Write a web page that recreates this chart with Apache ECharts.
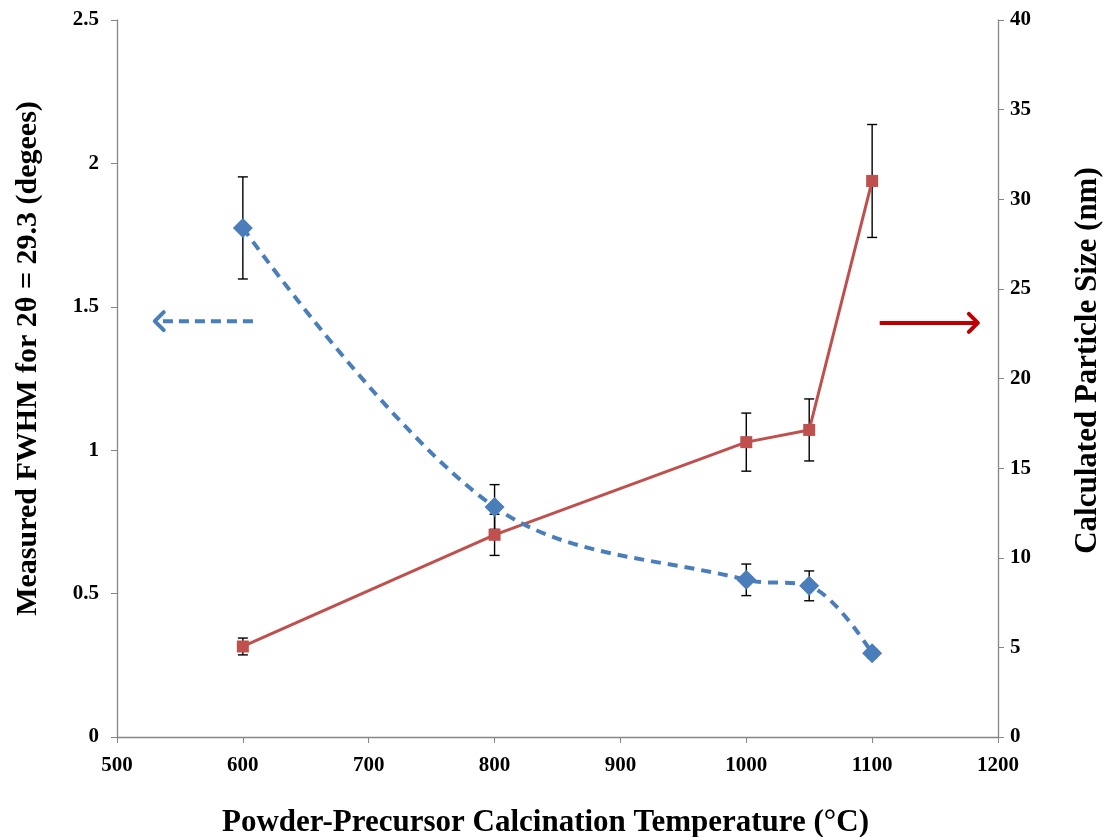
<!DOCTYPE html>
<html>
<head>
<meta charset="utf-8">
<script src="https://cdn.jsdelivr.net/npm/echarts@6/dist/echarts.min.js"></script>
<style>
  html, body { margin: 0; padding: 0; background: #fff; }
  #chart { width: 1105px; height: 837px; }
</style>
</head>
<body>
<div id="chart"></div>
<script>
// Calcination temperatures (°C)
const temperatures = [600, 800, 1000, 1050, 1100];
// FWHM of the 2θ = 29.3 peak (degrees) and its uncertainty
const fwhm = [1.775, 0.802, 0.548, 0.527, 0.292];
const fwhmErr = [0.178, 0.078, 0.055, 0.052, 0.016];
// Particle size from Scherrer analysis (nm) and its uncertainty
const particleSize = [5.05, 11.28, 16.45, 17.13, 31.02];
const particleErr = [0.47, 1.15, 1.62, 1.73, 3.15];

const FONT = '"Liberation Serif", "Times New Roman", serif';
const AXIS_GRAY = '#868686';
const BLUE = '#4a7ebb';
const RED = '#c0504d';

const chart = echarts.init(document.getElementById('chart'));

function errorBarSeries(values, errors, yAxisIndex) {
  return {
    type: 'custom',
    yAxisIndex: yAxisIndex,
    z: 1,
    silent: true,
    data: temperatures.map((t, i) => [t, values[i] - errors[i], values[i] + errors[i]]),
    renderItem: function (params, api) {
      const lo = api.coord([api.value(0), api.value(1)]);
      const hi = api.coord([api.value(0), api.value(2)]);
      const cap = 5;
      const style = { stroke: '#000', lineWidth: 1.4 };
      return {
        type: 'group',
        children: [
          { type: 'line', shape: { x1: lo[0], y1: lo[1], x2: hi[0], y2: hi[1] }, style: style },
          { type: 'line', shape: { x1: lo[0] - cap, y1: lo[1], x2: lo[0] + cap, y2: lo[1] }, style: style },
          { type: 'line', shape: { x1: hi[0] - cap, y1: hi[1], x2: hi[0] + cap, y2: hi[1] }, style: style }
        ]
      };
    }
  };
}

const tickLabel = {
  fontFamily: FONT, fontWeight: 'bold', fontSize: 21, color: '#000',
  formatter: v => String(v)
};

chart.setOption({
  animation: false,
  backgroundColor: '#fff',
  grid: { left: 117, right: 107, top: 20, bottom: 100, containLabel: false, outerBoundsMode: 'none' },
  xAxis: {
    type: 'value',
    min: 500, max: 1200, interval: 100,
    name: 'Powder-Precursor Calcination Temperature (°C)',
    nameLocation: 'middle',
    nameGap: 70,
    nameTextStyle: { fontFamily: FONT, fontWeight: 'bold', fontSize: 31, color: '#000', padding: [0, 24, 0, 0] },
    axisLine: { lineStyle: { color: AXIS_GRAY, width: 1.3 } },
    axisTick: { inside: false, length: 6, lineStyle: { color: AXIS_GRAY } },
    axisLabel: Object.assign({ margin: 18 }, tickLabel),
    splitLine: { show: false }
  },
  yAxis: [
    {
      type: 'value',
      min: 0, max: 2.5, interval: 0.5,
      name: 'Measured FWHM for 2θ = 29.3 (degees)',
      nameLocation: 'middle',
      nameRotate: 90,
      nameGap: 74,
      nameTextStyle: { fontFamily: FONT, fontWeight: 'bold', fontSize: 30, color: '#000', padding: [0, 0, 0, 40] },
      axisLine: { show: true, lineStyle: { color: AXIS_GRAY, width: 1.3 } },
      axisTick: { show: true, length: 6, lineStyle: { color: AXIS_GRAY } },
      axisLabel: Object.assign({ margin: 18 }, tickLabel),
      splitLine: { show: false }
    },
    {
      type: 'value',
      min: 0, max: 40, interval: 5,
      position: 'right',
      name: 'Calculated Particle Size (nm)',
      nameLocation: 'middle',
      nameRotate: 90,
      nameGap: 74,
      nameTextStyle: { fontFamily: FONT, fontWeight: 'bold', fontSize: 31, color: '#000', padding: [0, 0, 0, 36] },
      axisLine: { show: true, lineStyle: { color: AXIS_GRAY, width: 1.3 } },
      axisTick: { show: true, length: 6, lineStyle: { color: AXIS_GRAY } },
      axisLabel: Object.assign({ margin: 12 }, tickLabel),
      splitLine: { show: false }
    }
  ],
  series: [
    errorBarSeries(fwhm, fwhmErr, 0),
    errorBarSeries(particleSize, particleErr, 1),
    {
      name: 'FWHM',
      type: 'line',
      yAxisIndex: 0,
      z: 3,
      smooth: 0.35,
      data: temperatures.map((t, i) => [t, fwhm[i]]),
      symbol: 'diamond',
      symbolSize: 20,
      itemStyle: { color: BLUE },
      lineStyle: { color: BLUE, width: 4, type: [10, 7] }
    },
    {
      name: 'Particle size',
      type: 'line',
      yAxisIndex: 1,
      z: 2,
      data: temperatures.map((t, i) => [t, particleSize[i]]),
      symbol: 'rect',
      symbolSize: 12,
      itemStyle: { color: RED },
      lineStyle: { color: RED, width: 3 }
    }
  ]
});

// Arrows showing which axis each curve belongs to
function drawArrows() {
  const l0 = chart.convertToPixel({ xAxisIndex: 0, yAxisIndex: 0 }, [608, 1.45]);
  const l1 = chart.convertToPixel({ xAxisIndex: 0, yAxisIndex: 0 }, [530, 1.45]);
  const r0 = chart.convertToPixel({ xAxisIndex: 0, yAxisIndex: 1 }, [1106, 23.1]);
  const r1 = chart.convertToPixel({ xAxisIndex: 0, yAxisIndex: 1 }, [1184, 23.1]);
  const head = 9;
  chart.setOption({
    graphic: [
      { type: 'line', shape: { x1: l0[0], y1: l0[1], x2: l1[0] + 4, y2: l1[1] },
        style: { stroke: BLUE, lineWidth: 4, lineDash: [10, 6] } },
      { type: 'polyline', shape: { points: [[l1[0] + head, l1[1] - head], [l1[0], l1[1]], [l1[0] + head, l1[1] + head]] },
        style: { stroke: BLUE, lineWidth: 4, fill: null, lineCap: 'round', lineJoin: 'round' } },
      { type: 'line', shape: { x1: r0[0], y1: r0[1], x2: r1[0] - 2, y2: r1[1] },
        style: { stroke: '#c00000', lineWidth: 4 } },
      { type: 'polyline', shape: { points: [[r1[0] - head, r1[1] - head], [r1[0], r1[1]], [r1[0] - head, r1[1] + head]] },
        style: { stroke: '#c00000', lineWidth: 4, fill: null, lineCap: 'round', lineJoin: 'round' } }
    ]
  });
}
drawArrows();
</script>
</body>
</html>
